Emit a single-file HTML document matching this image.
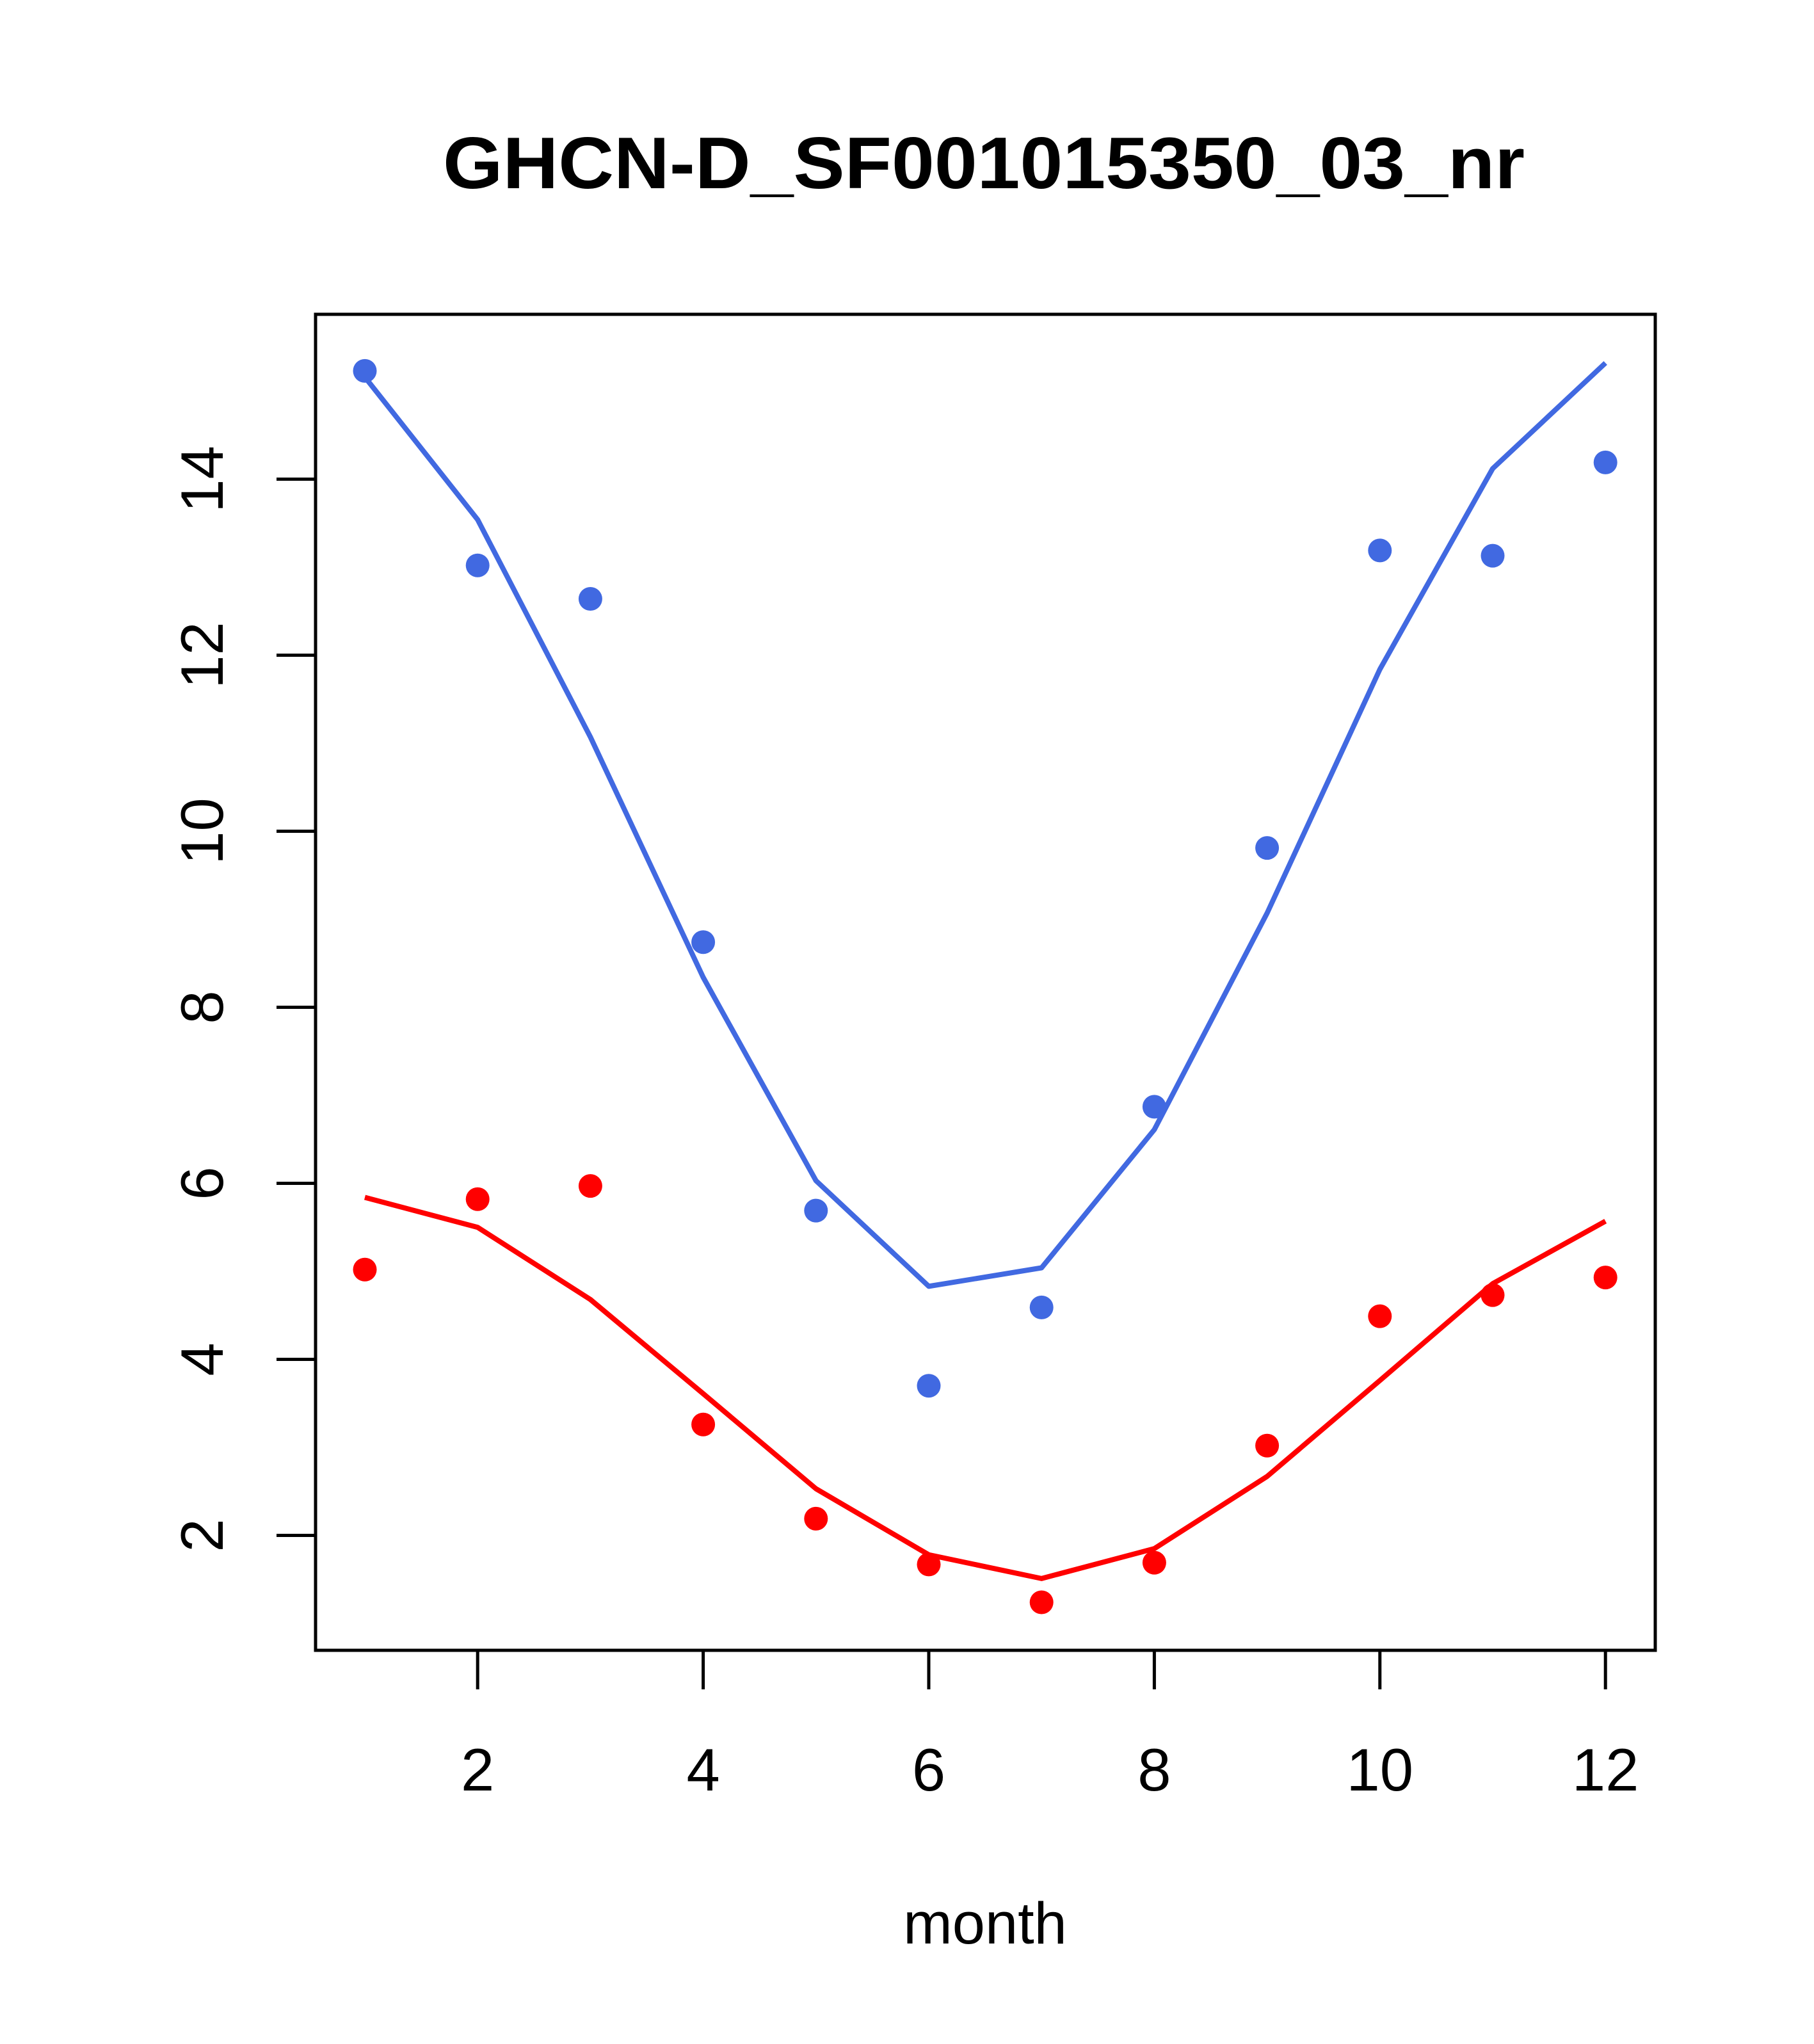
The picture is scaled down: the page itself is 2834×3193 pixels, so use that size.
<!DOCTYPE html>
<html><head><meta charset="utf-8"><style>html,body{margin:0;padding:0;background:#fff}</style></head>
<body>
<svg id="chart" width="2834" height="3188" viewBox="0 0 2834 3188" xmlns="http://www.w3.org/2000/svg" font-family="Liberation Sans, sans-serif">
<rect width="2834" height="3188" fill="#fff"/>
<text x="1537" y="294" font-size="114" font-weight="bold" text-anchor="middle" textLength="1690" lengthAdjust="spacingAndGlyphs">GHCN-D_SF001015350_03_nr</text>
<g id="marks"></g>
<rect x="493" y="491" width="2093" height="2087" fill="none" stroke="#000" stroke-width="5"/>
<text x="1539" y="3036" font-size="92" text-anchor="middle">month</text>
</svg>
<script>
const months = [1,2,3,4,5,6,7,8,9,10,11,12];
const bluePoints = [15.23,13.02,12.64,8.74,5.69,3.70,4.59,6.87,9.81,13.19,13.13,14.19];
const blueLine = [15.16,13.54,11.07,8.34,6.03,4.83,5.04,6.61,9.07,11.84,14.12,15.32];
const redPoints = [5.02,5.82,5.97,3.26,2.19,1.67,1.24,1.69,3.02,4.49,4.73,4.93];
const redLine = [5.84,5.50,4.68,3.61,2.53,1.78,1.51,1.85,2.67,3.76,4.86,5.57];
const xTicks = [2,4,6,8,10,12];
const yTicks = [2,4,6,8,10,12,14];

const NS = "http://www.w3.org/2000/svg";
const x = m => 570 + (m - 1) * 176.2;
const y = v => 2398.5 - (v - 2) * 137.5;
const svg = document.getElementById('chart');
const g = document.getElementById('marks');
function mk(tag, attrs, parent) {
  const e = document.createElementNS(NS, tag);
  for (const k in attrs) e.setAttribute(k, attrs[k]);
  (parent || g).appendChild(e);
  return e;
}
function line(vals, color, name) {
  const p = mk('polyline', {points: vals.map((v, i) => x(months[i]) + ',' + y(v)).join(' '), fill: 'none', stroke: color, 'stroke-width': 8, 'stroke-linejoin': 'round'});
  
  
}
function pts(vals, color, name) {
  vals.forEach((v, i) => {
    const c = mk('circle', {cx: x(months[i]), cy: y(v), r: 18.5, fill: color});
    
    
  });
}
line(blueLine, '#4169e1', 'blue-fit-line');
line(redLine, '#ff0000', 'red-fit-line');
pts(bluePoints, '#4169e1', 'blue-point');
pts(redPoints, '#ff0000', 'red-point');

xTicks.forEach(t => {
  const l = mk('line', {x1: x(t), x2: x(t), y1: 2578, y2: 2639, stroke: '#000', 'stroke-width': 5}, svg);
  
  
  const tx = mk('text', {x: x(t), y: 2797, 'font-size': 94, 'text-anchor': 'middle'}, svg);
  tx.textContent = t;
  
  
});
yTicks.forEach(t => {
  const l = mk('line', {x1: 432, x2: 493, y1: y(t), y2: y(t), stroke: '#000', 'stroke-width': 5}, svg);
  
  
  const tx = mk('text', {x: 348, y: y(t), 'font-size': 94, 'text-anchor': 'middle', transform: 'rotate(-90 348 ' + y(t) + ')'}, svg);
  tx.textContent = t;
  
  
});
</script>
</body></html>
